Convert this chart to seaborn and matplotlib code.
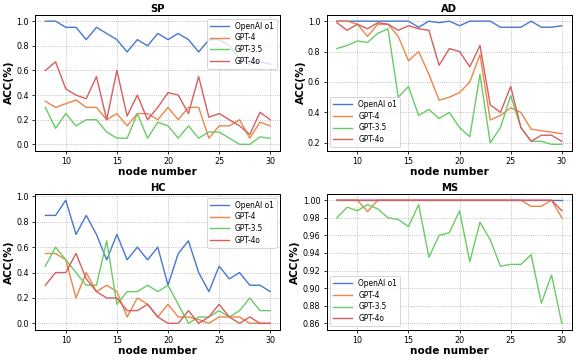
import numpy as np
import pandas as pd
import matplotlib
matplotlib.use("Agg")
import matplotlib.pyplot as plt
import matplotlib.ticker as mticker
import seaborn as sns

nodes = list(range(8, 31))
models = ["OpenAI o1", "GPT-4", "GPT-3.5", "GPT-4o"]

sp_o1 = [1.0, 1.0, 0.95, 0.95, 0.85, 0.95, 0.9, 0.85, 0.75, 0.85, 0.8, 0.9, 0.85, 0.9, 0.85, 0.75, 0.85, 0.85, 0.8, 0.7, 0.65, 0.67, 0.65]
sp_gpt4 = [0.35, 0.3, 0.33, 0.36, 0.3, 0.3, 0.2, 0.25, 0.15, 0.25, 0.25, 0.2, 0.3, 0.2, 0.3, 0.3, 0.05, 0.15, 0.15, 0.2, 0.05, 0.18, 0.15]
sp_gpt35 = [0.3, 0.13, 0.25, 0.15, 0.2, 0.2, 0.1, 0.05, 0.05, 0.25, 0.05, 0.18, 0.15, 0.05, 0.15, 0.05, 0.1, 0.1, 0.05, 0.0, 0.0, 0.06, 0.05]
sp_gpt4o = [0.6, 0.67, 0.45, 0.4, 0.37, 0.55, 0.2, 0.6, 0.23, 0.4, 0.2, 0.3, 0.42, 0.4, 0.25, 0.55, 0.22, 0.25, 0.2, 0.15, 0.08, 0.26, 0.2]

ad_o1 = [1.0, 1.0, 1.0, 1.0, 1.0, 1.0, 1.0, 1.0, 0.96, 1.0, 0.99, 1.0, 0.97, 1.0, 1.0, 1.0, 0.96, 0.96, 0.96, 1.0, 0.96, 0.96, 0.97]
ad_gpt4 = [1.0, 1.0, 0.98, 0.9, 0.98, 0.98, 0.9, 0.74, 0.8, 0.65, 0.48, 0.5, 0.53, 0.6, 0.78, 0.35, 0.38, 0.43, 0.4, 0.29, 0.28, 0.27, 0.26]
ad_gpt35 = [0.82, 0.84, 0.87, 0.86, 0.92, 0.95, 0.5, 0.57, 0.38, 0.42, 0.36, 0.4, 0.3, 0.24, 0.65, 0.2, 0.3, 0.51, 0.3, 0.21, 0.21, 0.19, 0.19]
ad_gpt4o = [0.99, 0.94, 0.98, 0.95, 0.99, 0.98, 0.94, 0.97, 0.95, 0.94, 0.71, 0.82, 0.8, 0.7, 0.84, 0.45, 0.4, 0.57, 0.3, 0.21, 0.25, 0.25, 0.21]

hc_o1 = [0.85, 0.85, 0.97, 0.7, 0.85, 0.7, 0.5, 0.7, 0.5, 0.6, 0.5, 0.6, 0.3, 0.55, 0.65, 0.4, 0.25, 0.45, 0.35, 0.4, 0.3, 0.3, 0.25]
hc_gpt4 = [0.55, 0.55, 0.5, 0.2, 0.4, 0.25, 0.3, 0.25, 0.05, 0.2, 0.15, 0.05, 0.15, 0.05, 0.05, 0.03, 0.0, 0.05, 0.05, 0.05, 0.0, 0.0, 0.0]
hc_gpt35 = [0.45, 0.6, 0.5, 0.4, 0.3, 0.3, 0.65, 0.15, 0.25, 0.25, 0.3, 0.25, 0.3, 0.15, 0.0, 0.05, 0.05, 0.1, 0.05, 0.1, 0.2, 0.1, 0.1]
hc_gpt4o = [0.3, 0.4, 0.4, 0.55, 0.35, 0.25, 0.2, 0.2, 0.1, 0.1, 0.15, 0.05, 0.0, 0.0, 0.1, 0.0, 0.05, 0.15, 0.05, 0.0, 0.05, 0.0, 0.0]

ms_o1 = [1.0] * 23
ms_gpt4 = [1.0, 1.0, 1.0, 0.987, 1.0, 1.0, 1.0, 1.0, 1.0, 1.0, 1.0, 1.0, 1.0, 1.0, 1.0, 1.0, 1.0, 1.0, 1.0, 0.993, 0.993, 1.0, 0.98]
ms_gpt35 = [0.98, 0.992, 0.988, 0.995, 0.99, 0.98, 0.978, 0.97, 0.995, 0.935, 0.96, 0.963, 0.988, 0.93, 0.975, 0.955, 0.925, 0.927, 0.927, 0.938, 0.883, 0.915, 0.86]
ms_gpt4o = [1.0] * 22 + [0.988]

panels = [
    ("SP", [sp_o1, sp_gpt4, sp_gpt35, sp_gpt4o], "upper right"),
    ("AD", [ad_o1, ad_gpt4, ad_gpt35, ad_gpt4o], "lower left"),
    ("HC", [hc_o1, hc_gpt4, hc_gpt35, hc_gpt4o], "upper right"),
    ("MS", [ms_o1, ms_gpt4, ms_gpt35, ms_gpt4o], "lower left"),
]

palette = sns.color_palette("muted", 4)

fig, axes = plt.subplots(2, 2, figsize=(8, 5), dpi=72)
for ax, (name, series, loc) in zip(axes.flat, panels):
    rows = []
    for model, vals in zip(models, series):
        for n, v in zip(nodes, vals):
            rows.append({"node": n, "acc": v, "model": model})
    df = pd.DataFrame(rows)
    sns.lineplot(data=df, x="node", y="acc", hue="model", hue_order=models,
                 palette=palette, ax=ax, linewidth=1.4)
    ax.grid(True, linestyle=":", color="#aaaaaa", linewidth=0.8)
    ax.set_axisbelow(True)
    ax.set_title(name, fontsize=10, fontweight="bold", pad=3)
    ax.set_xlabel("node number", fontsize=10.5, fontweight="bold", labelpad=1)
    ax.set_ylabel("ACC(%)", fontsize=10.5, fontweight="bold", labelpad=2)
    ax.tick_params(labelsize=8, length=3)
    ax.set_xticks([10, 15, 20, 25, 30])
    ax.set_xlim(7.0, 31.0)
    for s in ax.spines.values():
        s.set_color("black")
        s.set_linewidth(1.0)
    ax.legend(loc=loc, fontsize=7.5, frameon=True, handlelength=2.5, borderpad=0.4, labelspacing=0.35)

for ax in [axes[0, 0], axes[0, 1], axes[1, 0]]:
    ax.yaxis.set_major_locator(mticker.MultipleLocator(0.2))
    ax.yaxis.set_major_formatter(mticker.FormatStrFormatter("%.1f"))
axes[1, 1].set_yticks(np.arange(0.86, 1.001, 0.02))
axes[1, 1].yaxis.set_major_formatter(mticker.FormatStrFormatter("%.2f"))

plt.tight_layout(pad=0.4, h_pad=0.6, w_pad=1.0)
plt.savefig("out.png", dpi=72)
